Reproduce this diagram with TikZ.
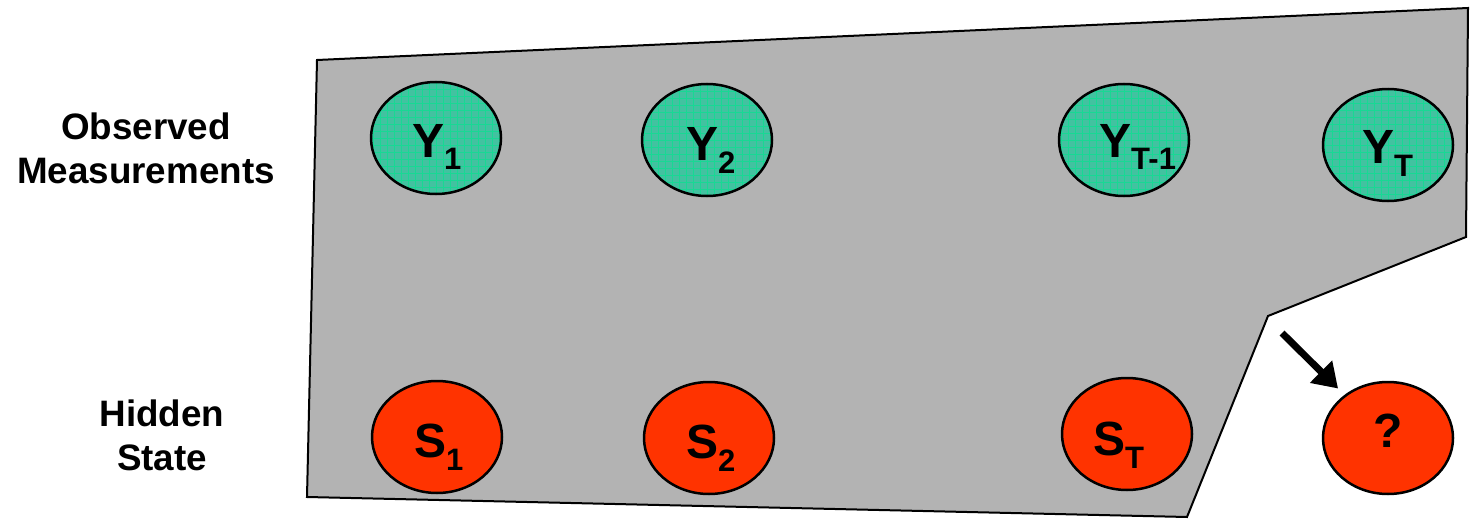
\documentclass[tikz,border=0pt]{standalone}
\usepackage{fontspec}
\setmainfont{Liberation Sans}
\usetikzlibrary{shapes.geometric,arrows.meta,calc}
\definecolor{polygray}{RGB}{179,179,179}
\definecolor{tealfill}{RGB}{66,194,160}
\definecolor{tealgrid}{RGB}{24,216,148}
\definecolor{statered}{RGB}{255,51,0}
\newcommand\lowsub[1]{\raisebox{-13pt}{\fontsize{31}{31}\selectfont #1}}
\begin{document}
\begin{tikzpicture}[x=1pt,y=-1pt,
 obs/.style={ellipse,draw=black,line width=2.5pt,fill=tealfill,minimum width=130pt,minimum height=112pt,inner sep=0pt,
   path picture={\draw[tealgrid,line width=1pt,step=7pt] (path picture bounding box.south west) grid (path picture bounding box.north east);}},
 hid/.style={ellipse,draw=black,line width=2.5pt,fill=statered,minimum width=130pt,minimum height=112pt,inner sep=0pt},
 lab/.style={font=\fontsize{48}{48}\selectfont\bfseries, inner sep=0pt, anchor=base west},
 side/.style={font=\fontsize{36.8}{44}\selectfont\bfseries, align=center, inner sep=0pt}
]
\useasboundingbox (0,0) rectangle (1470,519);
% background region
\draw[fill=polygray, line width=2pt, line join=miter] (317,60) -- (1468,8) -- (1466,237) -- (1268,316) -- (1187,517) -- (307,497) -- cycle;
% side labels
\node[side] (obslab) at (146,148) {Observed\\Measurements};
\node[side] (hidlab) at (162,435) {Hidden\\State};
% observed
\node[obs] (y1) at (436,138) {};
\node[obs] (y2) at (707,140) {};
\node[obs] (ytm) at (1124,140) {};
\node[obs] (yt) at (1388,145) {};
% hidden
\node[hid] (s1) at (437,437) {};
\node[hid] (s2) at (709,438) {};
\node[hid] (st) at (1127,434) {};
\node[hid] (q) at (1388,438) {};
% labels
\node[lab] (y1l) at (412,157) {Y\lowsub{1}};
\node[lab] (y2l) at (686,160) {Y\lowsub{2}};
\node[lab] (ytml) at (1099,157) {Y\lowsub{T-1}};
\node[lab] (ytl) at (1362,163) {Y\lowsub{T}};
\node[lab] (s1l) at (414,457) {S\lowsub{1}};
\node[lab] (s2l) at (686,458) {S\lowsub{2}};
\node[lab] (stl) at (1093,455) {S\lowsub{T}};
\node[lab, anchor=base] (ql) at (1388,447) {?};
% arrow
\coordinate (arrstart) at (1282,333);
\draw[line width=7pt, -{Triangle[length=24pt,width=30pt]}, shorten >=9pt] (arrstart) -- (q);
\end{tikzpicture}
\end{document}
